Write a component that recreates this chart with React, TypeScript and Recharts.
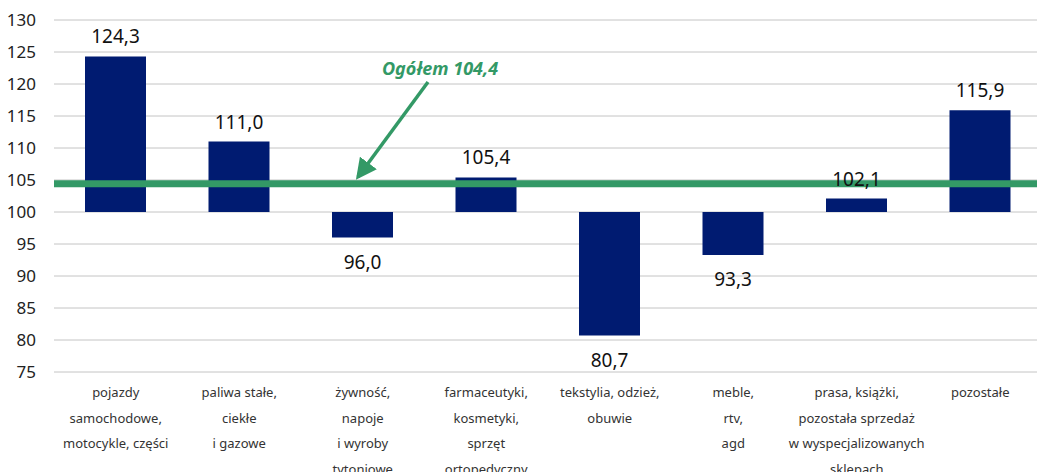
import React from "react";
import { BarChart, Bar, XAxis, YAxis, CartesianGrid, ReferenceLine, LabelList } from "recharts";

// kategorie sprzedaży detalicznej
const categories = [
    ["pojazdy", "samochodowe,", "motocykle,  części"],
    ["paliwa stałe,", "ciekłe", "i gazowe"],
    ["żywność,", "napoje", "i wyroby", "tytoniowe"],
    ["farmaceutyki,", "kosmetyki,", "sprzęt", "ortopedyczny"],
    ["tekstylia, odzież,", "obuwie"],
    ["meble,", "rtv,", "agd"],
    ["prasa, książki,", "pozostała sprzedaż", "w wyspecjalizowanych", "sklepach"],
    ["pozostałe"],
];
const values = [124.3, 111.0, 96.0, 105.4, 80.7, 93.3, 102.1, 115.9];
const yTicks = [75, 80, 85, 90, 95, 100, 105, 110, 115, 120, 125, 130];
const base = 100;
const overall = 104.4;
const overallLabel = "Ogółem 104,4";

const data = values.map((v, i) => ({ name: String(i), range: [base, v] }));

const NAVY = "#001b71";
const GREEN = "#339966";
const FONT = "'Noto Sans', sans-serif";

const fmt = (v: number) => v.toFixed(1).replace(".", ",");

const ValueLabel = (props: any) => {
    const { x, y, width, height, index } = props;
    const v = values[index];
    const top = Math.min(y, y + height);
    const bottom = Math.max(y, y + height);
    const ly = v >= base ? top - 13 : bottom + 31;
    return (
        <text x={x + width / 2} y={ly} textAnchor="middle" fontSize={19} fill="#111" fontFamily={FONT}>
            {fmt(v)}
        </text>
    );
};

const CategoryTick = (props: any) => {
    const { x, y, payload } = props;
    const lines = categories[Number(payload.value)];
    return (
        <text x={x} y={y} textAnchor="middle" fontSize={13} fill="#333" fontFamily={FONT}>
            {lines.map((l, i) => (
                <tspan key={i} x={x} dy={i === 0 ? 17 : 25.5}>{l}</tspan>
            ))}
        </text>
    );
};

const App = () => {
    return (
        <div style={{ position: "absolute", left: 0, top: 0, width: 1037, height: 472, overflow: "hidden", background: "#fff" }}>
            <BarChart width={1045} height={472} data={data} margin={{ top: 20, right: 3, left: 0, bottom: 0 }} barSize={61}>
                <CartesianGrid vertical={false} stroke="#c4c4c4" strokeWidth={1} />
                <XAxis dataKey="name" axisLine={false} tickLine={false} height={100} interval={0} tick={<CategoryTick />} />
                <YAxis
                    domain={[75, 130]}
                    ticks={yTicks}
                    width={54}
                    axisLine={false}
                    tickLine={false}
                    tickMargin={12}
                    tick={{ fontSize: 17, fill: "#222", fontFamily: FONT }}
                />
                <Bar dataKey="range" fill={NAVY} isAnimationActive={false}>
                    <LabelList dataKey="range" content={<ValueLabel />} />
                </Bar>
                <ReferenceLine y={overall} stroke={GREEN} strokeWidth={7} ifOverflow="extendDomain" />
            </BarChart>
            <svg width={1037} height={472} style={{ position: "absolute", left: 0, top: 0, pointerEvents: "none" }}>
                <defs>
                    <marker id="arrowHead" markerWidth="6" markerHeight="6" refX="5" refY="3" orient="auto" markerUnits="strokeWidth">
                        <path d="M0,0 L6,3 L0,6 z" fill={GREEN} />
                    </marker>
                </defs>
                <text x={440} y={75} textAnchor="middle" fontSize={18} fontWeight="bold" fontStyle="italic" fill={GREEN} fontFamily={FONT}>
                    {overallLabel}
                </text>
                <line x1={428} y1={82} x2={358} y2={177} stroke={GREEN} strokeWidth={3.5} markerEnd="url(#arrowHead)" />
            </svg>
        </div>
    );
};

export default App;
